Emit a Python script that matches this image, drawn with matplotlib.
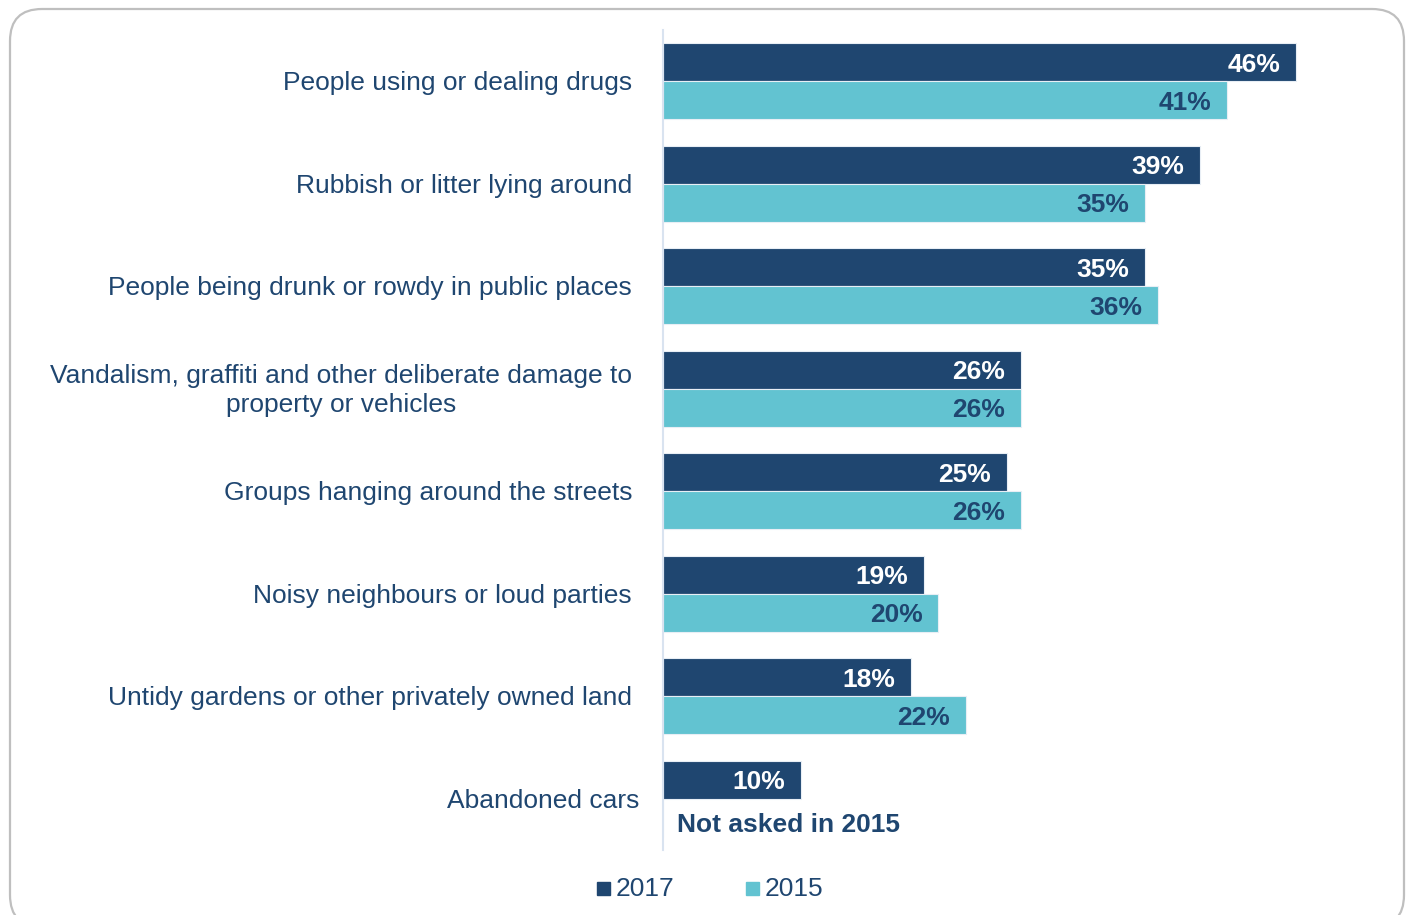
import matplotlib.pyplot as plt
from matplotlib.patches import FancyBboxPatch, Rectangle
import numpy as np

categories = [
    "People using or dealing drugs",
    "Rubbish or litter lying around",
    "People being drunk or rowdy in public places",
    "Vandalism, graffiti and other deliberate damage to\nproperty or vehicles",
    "Groups hanging around the streets",
    "Noisy neighbours or loud parties",
    "Untidy gardens or other privately owned land",
    "Abandoned cars",
]
values_2017 = [46, 39, 35, 26, 25, 19, 18, 10]
values_2015 = [41, 35, 36, 26, 26, 20, 22, None]
series_names = ["2017", "2015"]

NAVY = "#1F4670"
TEAL = "#62C3D1"
TEXT = "#1F4670"

plt.rcParams['font.family'] = ['Liberation Sans', 'DejaVu Sans']

W, H = 1410, 915
fig = plt.figure(figsize=(W / 100, H / 100), dpi=100)

# background axes in pixel units (y up), for the rounded frame and legend
bg = fig.add_axes([0, 0, 1, 1], zorder=-1)
bg.set_xlim(0, W)
bg.set_ylim(0, H)
bg.axis("off")
bg.add_patch(FancyBboxPatch((10, -12), 1394, H - 9 + 12,
                            boxstyle="round,pad=0,rounding_size=32",
                            fill=False, edgecolor="#BFBFBF", linewidth=1.6,
                            clip_on=False))

ax = fig.add_axes([663 / W, 65 / H, (1390 - 663) / W, 820 / H])
ax.set_xlim(0, (1390 - 663) / 13.76)
ax.set_ylim(7.5, -0.5)

y = np.arange(len(categories))
bh = 0.37

v17 = np.array(values_2017, dtype=float)
v15 = np.array([0 if v is None else v for v in values_2015], dtype=float)

ax.barh(y - bh / 2, v17, height=bh, color=NAVY, edgecolor="#E8EEF5", linewidth=0.8)
ax.barh(y + bh / 2, v15, height=bh, color=TEAL, edgecolor="#E8EEF5", linewidth=0.8)

pad = 1.15
fs = 19
for i, v in enumerate(values_2017):
    ax.text(v - pad, i - bh / 2 + 0.025, f"{v}%", ha="right", va="center",
            color="white", fontsize=fs, fontweight="bold")
for i, v in enumerate(values_2015):
    if v is None:
        ax.text(1.05, i + bh / 2 + 0.07, "Not asked in 2015", ha="left", va="center",
                color=TEXT, fontsize=fs, fontweight="bold")
    else:
        ax.text(v - pad, i + bh / 2 + 0.025, f"{v}%", ha="right", va="center",
                color=TEXT, fontsize=fs, fontweight="bold")

ax.set_yticks([])
ax.set_xticks([])
for s in ["top", "right", "bottom"]:
    ax.spines[s].set_visible(False)
ax.spines["left"].set_color("#D9E3F0")
ax.spines["left"].set_linewidth(1.5)

for i, c in enumerate(categories):
    ax.annotate(c, xy=(0, i), xycoords=("axes fraction", "data"),
                xytext=(-31 if i < 7 else -24, -2), textcoords="offset pixels",
                ha="right", va="center", multialignment="center",
                fontsize=fs, color=TEXT, linespacing=1.27)

# legend
lx = [597, 746]
for name, col, x0 in zip(series_names, [NAVY, TEAL], lx):
    bg.add_patch(Rectangle((x0, H - 895), 13, 13, color=col))
    bg.text(x0 + 19, H - 889, name, ha="left", va="center", fontsize=fs, color=TEXT)

fig.savefig("out.png", dpi=100)
